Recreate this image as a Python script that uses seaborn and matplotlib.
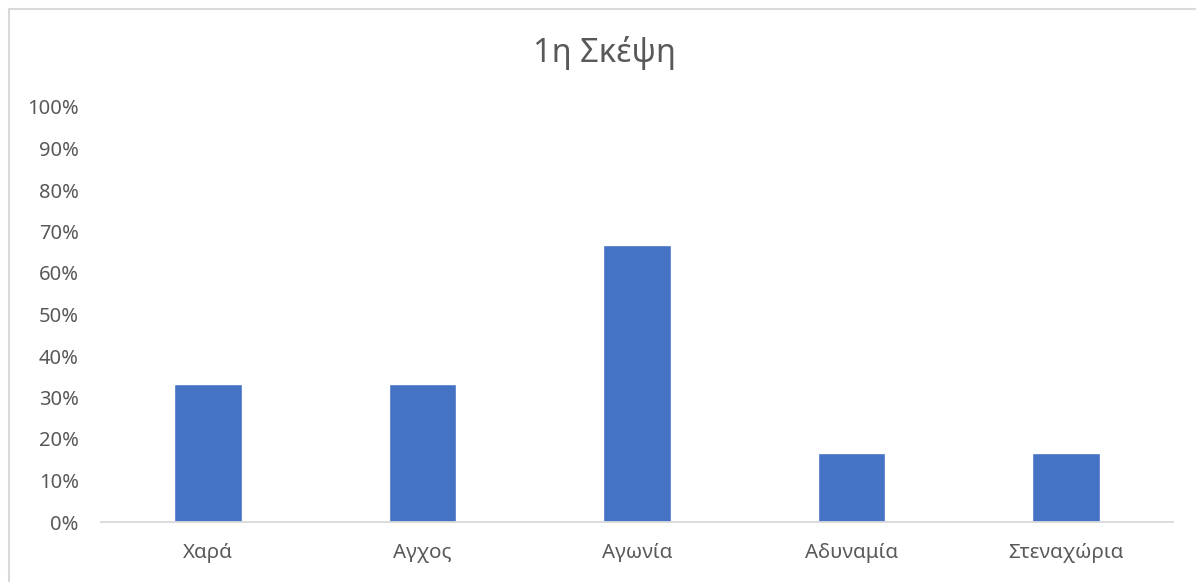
import matplotlib
matplotlib.use("Agg")
import matplotlib.pyplot as plt
from matplotlib.patches import Rectangle
from matplotlib.ticker import FuncFormatter
import seaborn as sns
import pandas as pd

categories = ["Χαρά", "Αγχος", "Αγωνία", "Αδυναμία", "Στεναχώρια"]
shares = [0.333, 0.333, 0.667, 0.167, 0.167]
y_ticks = [0.0, 0.1, 0.2, 0.3, 0.4, 0.5, 0.6, 0.7, 0.8, 0.9, 1.0]
title = "1η Σκέψη"

sns.set_style("white")
plt.rcParams["font.family"] = ["Noto Sans", "DejaVu Sans"]

text_color = "#595959"
line_color = "#D9D9D9"
bar_color = "#4472C4"

df = pd.DataFrame({"category": categories, "share": shares})

fig = plt.figure(figsize=(11.96, 5.82), dpi=100)
ax = fig.add_axes([101 / 1196, 1 - 522 / 582, 1072 / 1196, 415 / 582])

sns.barplot(data=df, x="category", y="share", color=bar_color,
            width=0.315, saturation=1, ax=ax)

ax.set_ylim(0, 1)
ax.set_xlim(-0.5, len(categories) - 0.5)
ax.set_yticks(y_ticks)
ax.yaxis.set_major_formatter(FuncFormatter(lambda v, _: f"{v * 100:.0f}%"))
ax.set_xlabel("")
ax.set_ylabel("")

for side in ["left", "right", "top"]:
    ax.spines[side].set_visible(False)
ax.spines["bottom"].set_color(line_color)
ax.spines["bottom"].set_linewidth(1.3)

ax.tick_params(axis="y", length=0, pad=16, labelsize=14.5, labelcolor=text_color)
ax.tick_params(axis="x", length=0, pad=15, labelsize=14.8, labelcolor=text_color)

fig.text(604 / 1196, 1 - 53 / 582, title, ha="center", va="center",
         fontsize=23.5, color=text_color)

# chart frame (left and top edges visible)
fig.add_artist(Rectangle((8.5 / 1196, -0.2), 2.0, 1.2 - 8.5 / 582,
                         transform=fig.transFigure, fill=False,
                         edgecolor=line_color, linewidth=1.5))

fig.savefig("out.png", dpi=100)
